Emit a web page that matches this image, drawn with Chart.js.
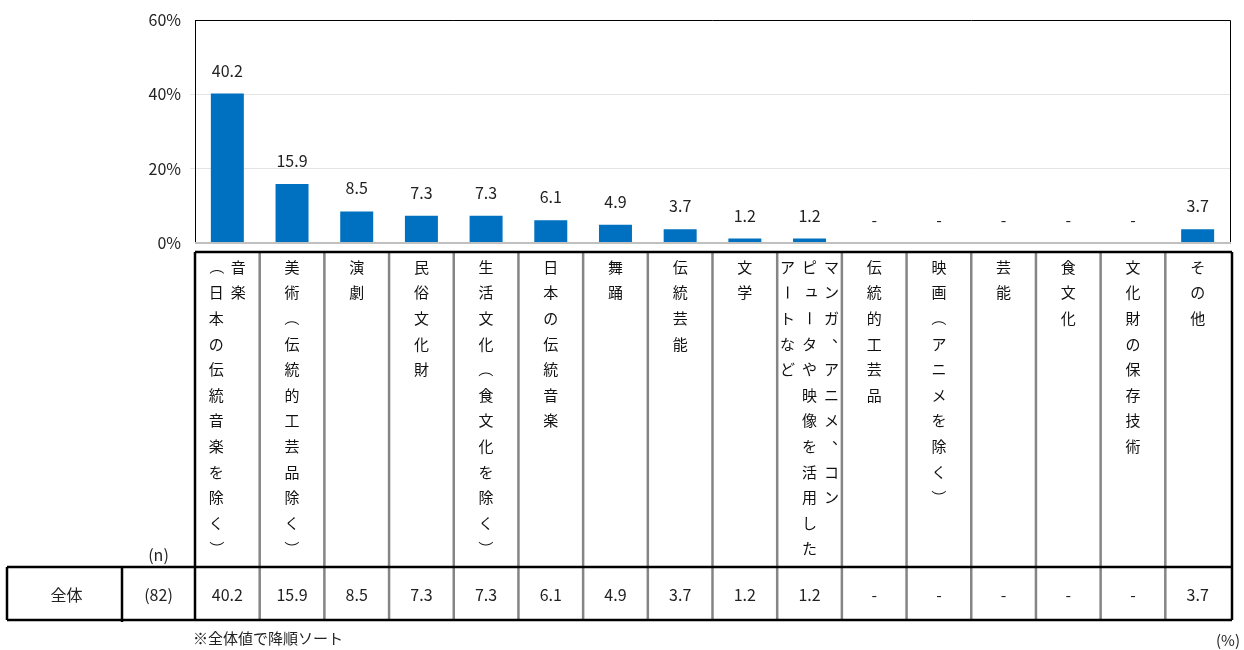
<!DOCTYPE html>
<html>
<head>
<meta charset="utf-8">
<script src="https://cdn.jsdelivr.net/npm/chart.js@4.4.1/dist/chart.umd.min.js"></script>
<style>
    html, body { margin: 0; padding: 0; background: #fff; }
    #wrap { width: 1244px; height: 650px; }
</style>
</head>
<body>
<div id="wrap"><canvas id="chart" width="1244" height="650"></canvas></div>
<script>
// categories: each entry is a list of vertical text columns (right to left)
const categories = [
    ['音楽', '（日本の伝統音楽を除く）'],
    ['美術（伝統的工芸品除く）'],
    ['演劇'],
    ['民俗文化財'],
    ['生活文化（食文化を除く）'],
    ['日本の伝統音楽'],
    ['舞踊'],
    ['伝統芸能'],
    ['文学'],
    ['マンガ、アニメ、コン', 'ピュータや映像を活用した', 'アートなど'],
    ['伝統的工芸品'],
    ['映画（アニメを除く）'],
    ['芸能'],
    ['食文化'],
    ['文化財の保存技術'],
    ['その他']
];
const values = [40.2, 15.9, 8.5, 7.3, 7.3, 6.1, 4.9, 3.7, 1.2, 1.2, 0, 0, 0, 0, 0, 3.7];
const yTicks = [0, 20, 40, 60];
const rowLabel = '全体';
const rowN = '(82)';
const nLabel = '(n)';
const note = '※全体値で降順ソート';
const unitLabel = '(%)';

const FONT = '"Noto Sans CJK JP", "Noto Sans", sans-serif';
const BLUE = '#0070c0';

function fmt(v) {
    return v === 0 ? '-' : v.toFixed(1);
}

const rotateChars = '（）ー';
const smallKana = 'ァィゥェォャュョッ';

function drawVertical(ctx, text, x, y0, step) {
    [...text].forEach((ch, i) => {
        const y = y0 + i * step;
        if (rotateChars.includes(ch)) {
            ctx.save();
            ctx.translate(x, y);
            ctx.rotate(Math.PI / 2);
            ctx.fillText(ch, 0, 0);
            ctx.restore();
        } else if (ch === '、') {
            ctx.fillText(ch, x + 8, y - 8);
        } else if (smallKana.includes(ch)) {
            ctx.fillText(ch, x + 2, y - 2);
        } else {
            ctx.fillText(ch, x, y);
        }
    });
}

const tablePlugin = {
    id: 'tablePlugin',
    afterDraw(chart) {
        const ctx = chart.ctx;
        const area = chart.chartArea;
        const xs = chart.scales.x;
        const ys = chart.scales.y;
        const n = categories.length;
        const colW = (area.right - area.left) / n;

        ctx.save();

        // plot frame
        ctx.strokeStyle = '#000';
        ctx.lineWidth = 1;
        ctx.beginPath();
        ctx.moveTo(area.left, area.top + 0.5);
        ctx.lineTo(area.right + 0.5, area.top + 0.5);
        ctx.lineTo(area.right + 0.5, area.bottom);
        ctx.stroke();

        ctx.strokeStyle = '#c0c0c0';
        ctx.lineWidth = 2;
        ctx.beginPath();
        ctx.moveTo(area.left, area.bottom);
        ctx.lineTo(area.right + 1, area.bottom);
        ctx.stroke();

        // value labels above bars
        ctx.fillStyle = '#222';
        ctx.font = '16px ' + FONT;
        ctx.textAlign = 'center';
        ctx.textBaseline = 'middle';
        values.forEach((v, i) => {
            ctx.fillText(fmt(v), xs.getPixelForValue(i), ys.getPixelForValue(v) - 23);
        });

        // table
        const headTop = 252, rowTop = 567, rowBottom = 620;
        const farLeft = 7, midLine = 122;
        const tLeft = area.left, tRight = area.right + 2;

        // inner column lines
        ctx.strokeStyle = '#858585';
        ctx.lineWidth = 2.5;
        ctx.beginPath();
        for (let i = 1; i < n; i++) {
            const x = tLeft + i * colW;
            ctx.moveTo(x, headTop);
            ctx.lineTo(x, rowBottom);
        }
        ctx.stroke();

        ctx.strokeStyle = '#000';
        ctx.lineWidth = 2.5;
        ctx.beginPath();
        ctx.moveTo(tLeft, headTop);
        ctx.lineTo(tRight, headTop);
        ctx.moveTo(farLeft, rowTop);
        ctx.lineTo(tRight, rowTop);
        ctx.moveTo(farLeft, rowBottom);
        ctx.lineTo(tRight, rowBottom);
        ctx.moveTo(tLeft, headTop);
        ctx.lineTo(tLeft, rowBottom);
        ctx.moveTo(tRight, headTop);
        ctx.lineTo(tRight, rowBottom);
        ctx.moveTo(farLeft, rowTop);
        ctx.lineTo(farLeft, rowBottom);
        ctx.moveTo(midLine, rowTop);
        ctx.lineTo(midLine, rowBottom + 2);
        ctx.stroke();

        // vertical category labels
        ctx.fillStyle = '#111';
        ctx.font = '15px ' + FONT;
        categories.forEach((cols, i) => {
            const cx = xs.getPixelForValue(i);
            const k = cols.length;
            cols.forEach((text, j) => {
                const x = cx + ((k - 1) / 2 - j) * 22;
                drawVertical(ctx, text, x, 267, 25.6);
            });
        });

        // data row
        ctx.font = '16px ' + FONT;
        ctx.fillStyle = '#222';
        const rowMid = (rowTop + rowBottom) / 2 + 1;
        values.forEach((v, i) => {
            ctx.fillText(fmt(v), xs.getPixelForValue(i), rowMid);
        });
        ctx.fillText(rowLabel, (farLeft + midLine) / 2 + 2, rowMid);
        ctx.fillText(rowN, (midLine + tLeft) / 2, rowMid);
        ctx.fillText(nLabel, (midLine + tLeft) / 2, 555);

        ctx.textAlign = 'left';
        ctx.font = '15px ' + FONT;
        ctx.fillText(note, 193, 638);
        ctx.textAlign = 'right';
        ctx.fillText(unitLabel, 1240, 640);

        ctx.restore();
    }
};

new Chart(document.getElementById('chart'), {
    type: 'bar',
    data: {
        labels: categories.map(c => c.join('')),
        datasets: [{
            data: values,
            backgroundColor: BLUE,
            borderWidth: 0,
            barPercentage: 0.51,
            categoryPercentage: 1
        }]
    },
    options: {
        responsive: false,
        animation: false,
        layout: {
            padding: { left: 135, top: 20, right: 14, bottom: 407 }
        },
        plugins: {
            legend: { display: false },
            tooltip: { enabled: false }
        },
        scales: {
            x: {
                display: false
            },
            y: {
                min: 0,
                max: 60,
                afterFit: s => { s.width = 60; },
                afterBuildTicks: s => { s.ticks = yTicks.map(v => ({ value: v })); },
                border: { display: true, color: '#000', width: 1 },
                grid: {
                    color: c => (c.tick.value === 20 || c.tick.value === 40) ? '#e4e4e4' : 'rgba(0,0,0,0)',
                    tickLength: 5
                },
                ticks: {
                    padding: 9,
                    color: '#222',
                    font: { family: FONT, size: 16 },
                    callback: v => v + '%'
                }
            }
        }
    },
    plugins: [tablePlugin]
});
</script>
</body>
</html>
